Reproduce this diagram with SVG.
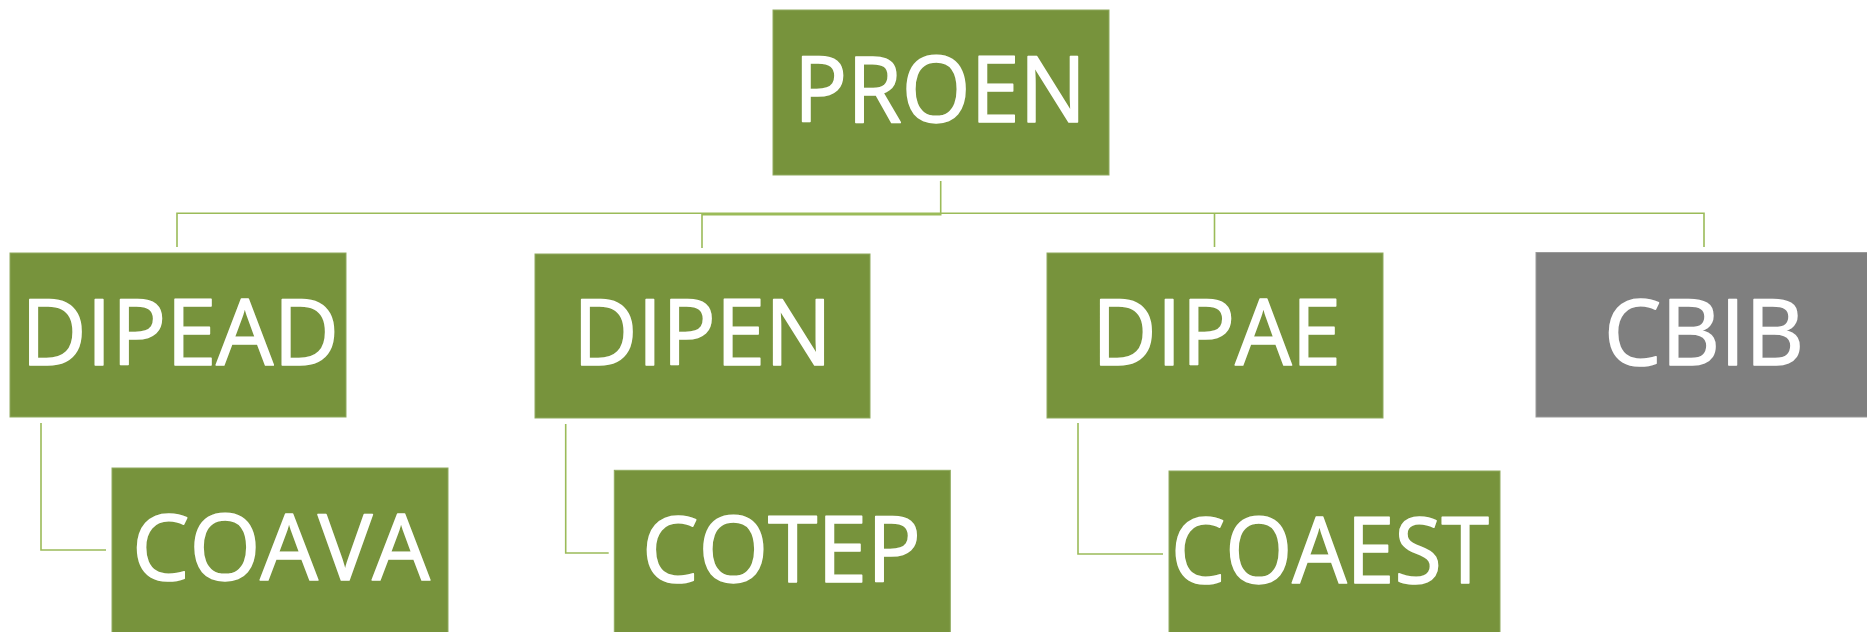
<svg xmlns="http://www.w3.org/2000/svg" width="1867" height="632" viewBox="0 0 1867 632">
<style>
.box{fill:#77933C;stroke:#8FAA5E;stroke-width:1}
.gray{fill:#7F7F7F;stroke:#999999;stroke-width:1}
.lbl{font-family:"Open Sans","Liberation Sans",sans-serif;font-size:92px;font-weight:400;fill:#FFFFFF;stroke:#FFFFFF;stroke-width:1.6;stroke-linejoin:round;text-anchor:middle}
.conn{fill:none;stroke:#9BBB59;stroke-width:1.6}
</style>
<rect width="1867" height="632" fill="#FFFFFF"/>
<g id="connectors">
<path class="conn" d="M940.7 181 V214.7 H702 V248"/>
<path class="conn" d="M177 247 V213.3 H1704 V247"/>
<path class="conn" d="M1214.5 247 V213.3"/>
<path class="conn" d="M41 423 V550 H106"/>
<path class="conn" d="M565.7 424 V553 H608.7"/>
<path class="conn" d="M1078 423 V554 H1163"/>
</g>
<g id="PROEN">
<rect class="box" x="773" y="10" width="336" height="165"/>
<text class="lbl" x="940" y="122" textLength="292" lengthAdjust="spacingAndGlyphs">PROEN</text>
</g>
<g id="DIPEAD">
<rect class="box" x="10" y="253" width="336" height="164"/>
<text class="lbl" x="180" y="365" textLength="318" lengthAdjust="spacingAndGlyphs">DIPEAD</text>
</g>
<g id="DIPEN">
<rect class="box" x="535" y="254" width="335" height="164"/>
<text class="lbl" x="702.5" y="365" textLength="259" lengthAdjust="spacingAndGlyphs">DIPEN</text>
</g>
<g id="DIPAE">
<rect class="box" x="1047" y="253" width="336" height="165"/>
<text class="lbl" x="1216.5" y="365" textLength="249" lengthAdjust="spacingAndGlyphs">DIPAE</text>
</g>
<g id="CBIB">
<rect class="gray" x="1536" y="252.5" width="336" height="164.5"/>
<text class="lbl" x="1704" y="365" textLength="200" lengthAdjust="spacingAndGlyphs">CBIB</text>
</g>
<g id="COAVA">
<rect class="box" x="112" y="468" width="336" height="170"/>
<text class="lbl" x="281" y="580" textLength="298" lengthAdjust="spacingAndGlyphs">COAVA</text>
</g>
<g id="COTEP">
<rect class="box" x="614.3" y="470.3" width="336" height="170"/>
<text class="lbl" x="781.5" y="582" textLength="279" lengthAdjust="spacingAndGlyphs">COTEP</text>
</g>
<g id="COAEST">
<rect class="box" x="1169" y="471" width="331" height="170"/>
<text class="lbl" x="1330" y="583" textLength="318" lengthAdjust="spacingAndGlyphs">COAEST</text>
</g>
</svg>
